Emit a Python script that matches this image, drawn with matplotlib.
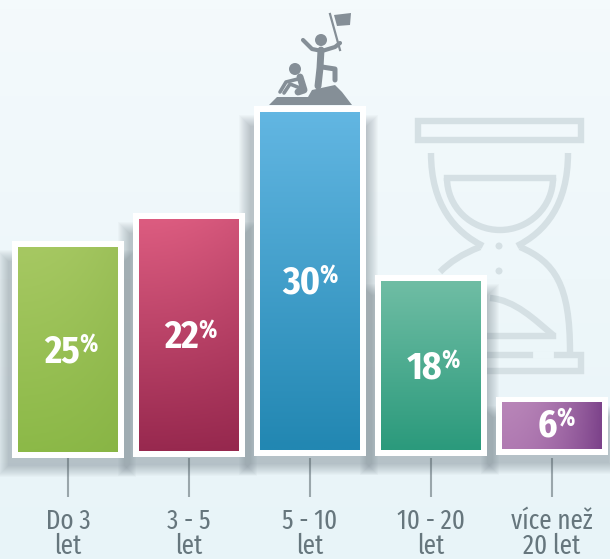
import numpy as np
import matplotlib
matplotlib.use("Agg")
import matplotlib.pyplot as plt
from matplotlib.colors import to_rgb
from matplotlib.patches import Rectangle, Circle, Polygon, PathPatch, Arc
from matplotlib.path import Path

plt.rcParams['font.family'] = ['Fira Sans Condensed', 'Roboto Condensed', 'Liberation Sans', 'DejaVu Sans']
NARROW = ['Fira Sans Extra Condensed', 'Fira Sans Condensed', 'Liberation Sans', 'DejaVu Sans']

# --- data ---
categories = ["Do 3\nlet", "3 - 5\nlet", "5 - 10\nlet", "10 - 20\nlet", "více než\n20 let"]
percent_labels = [25, 22, 30, 18, 6]
# drawn heights (not proportional to the printed percentages)
bar_heights = [205, 232, 338, 169, 46]
bar_bottoms = [0, 1, 2, 2, 3]
label_heights = [100, 114, 169, 84, 26]
colors_top = ["#a6c862", "#dc5c80", "#62b6e2", "#6fbda4", "#b885b8"]
colors_bottom = ["#8cb948", "#98294f", "#2287b2", "#2b9a7c", "#b07ab2"]
right_shade = ["#7fa83e", "#8a2348", "#2287b2", "#2b9a7c", "#6f3480"]
right_shade_amount = [0.25, 0.15, 0.0, 0.0, 0.8]

W, H = 610, 559
fig = plt.figure(figsize=(W / 100, H / 100), dpi=100)

# --- background layer in pixel coordinates ---
bg = fig.add_axes([0, 0, 1, 1], zorder=0)
bg.set_xlim(0, W); bg.set_ylim(H, 0); bg.axis('off')
c1, c2 = np.array(to_rgb("#f4fafc")), np.array(to_rgb("#e8f4f8"))
t = np.linspace(0, 1, 64)[:, None, None]
bg.imshow(c1 * (1 - t) + c2 * t, extent=(0, W, H, 0), aspect='auto', zorder=0)
bg.set_xlim(0, W); bg.set_ylim(H, 0)

gl = "#d5e0e4"
lw = 4.6
for (x0, y0, x1, y1) in [(418, 121, 581, 140), (418, 355, 581, 371)]:
    bg.add_patch(Rectangle((x0, y0), x1 - x0, y1 - y0, fill=False, ec=gl, lw=lw, zorder=1))
bg.plot([537, 550], [355, 355], color="#ecf6f9", lw=lw + 1, zorder=1.1)


def curve(pts, **kw):
    codes = [Path.MOVETO] + [Path.CURVE4] * (len(pts) - 1)
    bg.add_patch(PathPatch(Path(pts, codes), fill=False, ec=gl, lw=lw, capstyle='butt', zorder=1))


curve([(568, 153), (568, 205), (545, 232), (517, 246)])
curve([(431, 153), (431, 205), (455, 232), (483, 246)])
curve([(520, 247), (555, 262), (570, 285), (570, 352)])
curve([(480, 247), (462, 254), (450, 262), (440, 272)])
curve([(490, 298), (515, 300), (535, 320), (553, 335)])
bg.plot([485, 553], [336, 336], color=gl, lw=lw, zorder=1)
bg.plot([447, 553], [178, 178], color=gl, lw=lw, zorder=1)
bg.add_patch(Arc((500, 178), 106, 104, theta1=0, theta2=180, ec=gl, lw=lw, zorder=1))
for cy in (246, 271):
    bg.add_patch(Circle((499, cy), 3.5, fc=gl, ec='none', zorder=1))

# --- icon on top of the tallest bar ---
ic = "#858f97"
bg.add_patch(Polygon([(269, 105), (277, 97), (308, 97), (312, 90), (335, 85), (342, 92), (352, 105)],
                     fc=ic, ec='none', zorder=2))
bg.add_patch(Circle((321, 40), 6, fc=ic, ec='none', zorder=2))
bg.plot([321, 320, 318], [50, 68, 86], color=ic, lw=5, solid_capstyle='round', zorder=2)
bg.plot([322, 335, 335], [67, 69, 80], color=ic, lw=3.6, solid_capstyle='round', zorder=2)
bg.plot([303, 312, 322, 335, 340], [40, 49, 51, 47, 43], color=ic, lw=3, solid_capstyle='round', zorder=2)
bg.plot([330, 340], [14, 50], color=ic, lw=1.6, zorder=2)
bg.add_patch(Polygon([(334, 15), (351, 13), (350, 25), (337, 26)], fc=ic, ec='none', zorder=2))
bg.add_patch(Circle((295, 69), 6, fc=ic, ec='none', zorder=2))
bg.plot([300, 304, 298], [77, 90, 92], color=ic, lw=5, solid_capstyle='round', zorder=2)
bg.plot([298, 286, 280], [79, 82, 92], color=ic, lw=2.6, solid_capstyle='round', zorder=2)
bg.plot([300, 290, 284], [88, 84, 93], color=ic, lw=2.6, solid_capstyle='round', zorder=2)

# --- bars ---
ax = fig.add_axes([0, 1 - 458 / H, 1, 458 / H], zorder=1)
ax.patch.set_alpha(0)
xs = np.arange(len(categories))
xlim = (-68 / 121, (W - 68) / 121)
ylim = (-6, 452)
width = 100 / 121
frame_px = 6.0
bars = ax.bar(xs, bar_heights, width=width, bottom=bar_bottoms, color="white", edgecolor="white",
              linewidth=frame_px * 2 * 72 / 100, joinstyle='miter', clip_on=False, zorder=3)

for rect, ct, cb, rs, ra in zip(bars, colors_top, colors_bottom, right_shade, right_shade_amount):
    x0, y0, w, h = rect.get_x(), rect.get_y(), rect.get_width(), rect.get_height()
    # soft shadow, mostly to the left and below, fading out towards the top
    for k in range(1, 13):
        pad = k * 1.0
        ax.add_patch(Rectangle((x0 - (frame_px + pad + 3) / 121, y0 - frame_px - pad - 7),
                               w + (2 * frame_px + 2 * pad + 3) / 121, h + 2 * frame_px + 2 * pad - 14,
                               fc="#55646e", ec='none', alpha=0.03, clip_on=False, zorder=2))
    top, bot, side = np.array(to_rgb(ct)), np.array(to_rgb(cb)), np.array(to_rgb(rs))
    v = np.linspace(0, 1, 64)[:, None, None]
    u = np.linspace(0, 1, 64)[None, :, None]
    grad = top * (1 - v) + bot * v
    mix = ra * u ** 2
    grad = grad * (1 - mix) + side * mix
    ax.imshow(grad, extent=(x0, x0 + w, y0, y0 + h), origin='upper', aspect='auto', zorder=4, clip_on=False)

ax.set_xlim(*xlim)
ax.set_ylim(*ylim)

for i, (val, ly) in enumerate(zip(percent_labels, label_heights)):
    dx = [12, 10, 10, 11, 5][i]
    ax.annotate(str(val), xy=(i, ly), xytext=(dx, 0), textcoords='offset pixels', color='white', fontsize=27,
                fontweight='bold', ha='right', va='center', zorder=6)
    ax.annotate('%', xy=(i, ly), xytext=(dx - 1, 7), textcoords='offset pixels', color='white', fontsize=18,
                fontweight='bold', family=NARROW, ha='left', va='center', zorder=6)

for s in ax.spines.values():
    s.set_visible(False)
ax.set_yticks([])
ax.set_xticks(xs)
ax.set_xticklabels(categories, fontsize=19.5, color="#66767d", linespacing=0.92, family=NARROW)
ax.tick_params(axis='x', length=28, width=1.5, color="#9aa6ab", pad=8)

fig.savefig("out.png", dpi=100)
